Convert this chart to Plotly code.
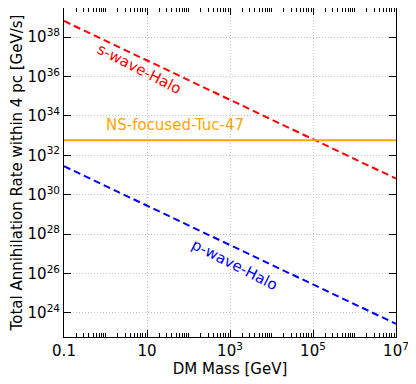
import numpy as np
import plotly.graph_objects as go

# DM mass endpoints [GeV] and annihilation rates [GeV/s]
mass = [0.1, 1e7]
s_wave = [6.6e38, 6.6e30]
p_wave = [2.8e31, 2.8e23]
ns_tuc47 = [5.9e32, 5.9e32]

x_tickvals = [0.1, 10, 1e3, 1e5, 1e7]
x_ticktext = ["0.1", "10", "10<sup>3</sup>", "10<sup>5</sup>", "10<sup>7</sup>"]
y_tickvals = [1e24, 1e26, 1e28, 1e30, 1e32, 1e34, 1e36, 1e38]
y_ticktext = ["10<sup>%d</sup>" % int(np.log10(v)) for v in y_tickvals]

font = "DejaVu Sans"

fig = go.Figure()
fig.add_trace(go.Scatter(x=mass, y=s_wave, mode="lines", name="s-wave-Halo",
                         line=dict(color="red", width=2, dash="7px,4px")))
fig.add_trace(go.Scatter(x=mass, y=p_wave, mode="lines", name="p-wave-Halo",
                         line=dict(color="blue", width=2, dash="7px,4px")))
fig.add_trace(go.Scatter(x=mass, y=ns_tuc47, mode="lines", name="NS-focused-Tuc-47",
                         line=dict(color="orange", width=2)))

fig.add_annotation(x=0.81, y=36.37, text="s-wave-Halo", showarrow=False,
                   textangle=27, font=dict(color="red", size=15, family=font))
fig.add_annotation(x=3.12, y=26.46, text="p-wave-Halo", showarrow=False,
                   textangle=27, font=dict(color="blue", size=15, family=font))
fig.add_annotation(x=1.67, y=33.54, text="NS-focused-Tuc-47", showarrow=False,
                   font=dict(color="orange", size=15, family=font))

axis_common = dict(
    showline=True, linecolor="black", linewidth=1, mirror="ticks",
    ticks="inside", ticklen=7, tickcolor="black", automargin=False,
    showgrid=True, gridcolor="#c4c4c4", griddash="1px,2px", gridwidth=1,
    zeroline=False, tickfont=dict(size=15, color="black", family=font),
)

fig.update_xaxes(type="log", range=[-1, 7], tickvals=x_tickvals, ticktext=x_ticktext,
                 title=dict(text="DM Mass [GeV]", font=dict(size=15, family=font), standoff=2),
                 minor=dict(ticks="inside", ticklen=4, tickcolor="black", showgrid=False,
                            tickvals=[m * 10 ** d for d in range(-1, 7) for m in range(1, 10)]),
                 **axis_common)
fig.update_yaxes(type="log", range=[22.78, 39.48], tickvals=y_tickvals, ticktext=y_ticktext,
                 title=dict(text="Total Annihilation Rate within 4 pc [GeV/s]",
                            font=dict(size=15, family=font), standoff=3),
                 **axis_common)

# page body adds an 8px margin, so the figure is a bit smaller than the window
fig.update_layout(
    width=408, height=376,
    margin=dict(l=56, r=20, t=0, b=47),
    plot_bgcolor="white", paper_bgcolor="white",
    showlegend=False,
    font=dict(family=font, color="black"),
)

fig.write_html("out.html")
